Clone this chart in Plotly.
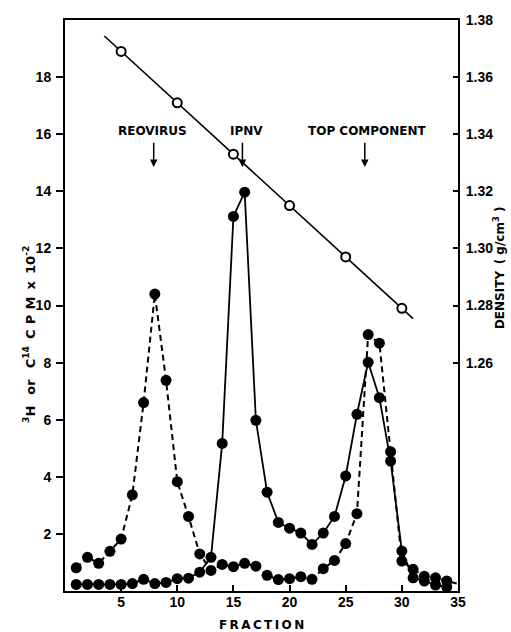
import numpy as np
import plotly.graph_objects as go

# ---- data ----
fractions = list(range(1, 35))

# dashed series (reovirus peak + top component); last value only continues the line
dashed_fractions = list(range(1, 36))
dashed_cpm = [0.81, 1.18, 0.97, 1.39, 1.82, 3.37, 6.60, 10.40, 7.38, 3.83,
              2.61, 1.30, 0.72, 0.93, 0.85, 0.97, 0.87, 0.55, 0.40, 0.43,
              0.50, 0.41, 0.78, 1.07, 1.66, 2.71, 8.98, 8.68, 4.88, 1.05,
              0.76, 0.52, 0.46, 0.35, 0.25]

# solid series (IPNV peak + top component)
solid_cpm = [0.23, 0.23, 0.23, 0.23, 0.23, 0.26, 0.41, 0.26, 0.30, 0.43,
             0.45, 0.66, 1.18, 5.17, 13.12, 13.97, 5.98, 3.46, 2.40, 2.20,
             2.03, 1.63, 2.03, 2.61, 4.03, 6.19, 8.01, 6.77, 4.55, 1.40,
             0.46, 0.35, 0.21, 0.14]

# density (open circles)
density_fractions = [5, 10, 15, 20, 25, 30]
density_values = [1.369, 1.351, 1.333, 1.315, 1.297, 1.279]
density_line_extent = [3.5, 31.0]

# labels and arrows
label_texts = ["REOVIRUS", "IPNV", "TOP COMPONENT"]
label_fractions = [7.8, 16.2, 26.9]
arrow_fractions = [7.9, 15.8, 26.7]

x_ticks = [5, 10, 15, 20, 25, 30, 35]
y_ticks = [2, 4, 6, 8, 10, 12, 14, 16, 18]
y2_ticks = [1.26, 1.28, 1.30, 1.32, 1.34, 1.36, 1.38]

FONT = "DejaVu Sans"
TICKFONT = dict(family="Liberation Sans", size=14, color="black", weight="bold")

fig = go.Figure()

# dashed line
fig.add_trace(go.Scatter(
    x=dashed_fractions, y=dashed_cpm, mode="lines",
    line=dict(color="black", width=2, dash="6px,4px"),
    showlegend=False, hoverinfo="skip", cliponaxis=False))
# dashed series markers (measured points only)
fig.add_trace(go.Scatter(
    x=dashed_fractions[:-1], y=dashed_cpm[:-1], mode="markers",
    marker=dict(color="black", size=11, opacity=1, line=dict(width=0)),
    showlegend=False, cliponaxis=False))

fig.add_trace(go.Scatter(
    x=fractions, y=solid_cpm, mode="lines+markers",
    line=dict(color="black", width=1.8),
    marker=dict(color="black", size=11, opacity=1, line=dict(width=0)),
    showlegend=False, cliponaxis=False))

# density fit line
coef = np.polyfit(density_fractions, density_values, 1)
line_y = list(np.polyval(coef, density_line_extent))
fig.add_trace(go.Scatter(
    x=density_line_extent, y=line_y, mode="lines",
    line=dict(color="black", width=1.6), yaxis="y2",
    showlegend=False, hoverinfo="skip"))
fig.add_trace(go.Scatter(
    x=density_fractions, y=density_values, mode="markers", yaxis="y2",
    marker=dict(color="white", size=9, line=dict(color="black", width=2)),
    showlegend=False))

annotations = []
for t, lx, axx in zip(label_texts, label_fractions, arrow_fractions):
    annotations.append(dict(
        x=lx, y=16.1, xref="x", yref="y", text=t, showarrow=False,
        font=dict(family=FONT, size=12, color="black", weight="bold")))
    annotations.append(dict(
        x=axx, y=14.85, ax=axx, ay=15.75, xref="x", yref="y",
        axref="x", ayref="y", text="", showarrow=True,
        arrowhead=2, arrowsize=1, arrowwidth=1.5, arrowcolor="black"))

# axis titles as annotations
annotations.append(dict(
    x=-0.09, y=(591 - 332) / 576, xref="paper", yref="paper",
    text="<sup>3</sup>H\u2002 or\u2002 C<sup>14</sup>\u2009 C\u2009\u2009P\u2009\u2009M\u2009 x\u2009 10<sup>-2</sup>",
    textangle=-90, showarrow=False, xanchor="center", yanchor="middle",
    font=dict(family=FONT, size=13, color="black", weight="bold")))
annotations.append(dict(
    x=1.105, y=(591 - 265) / 576, xref="paper", yref="paper",
    text="DENSITY\u2009 ( g/cm<sup>3</sup> )",
    textangle=-90, showarrow=False, xanchor="center", yanchor="middle",
    font=dict(family=FONT, size=12, color="black", weight="bold")))
annotations.append(dict(
    x=0.5, y=-(625 - 591) / 576, xref="paper", yref="paper",
    text="\u2009".join("FRACTION"), showarrow=False,
    xanchor="center", yanchor="middle",
    font=dict(family=FONT, size=12, color="black", weight="bold")))

fig.update_layout(
    width=511, height=632,
    margin=dict(l=65, r=53, t=15, b=41),
    paper_bgcolor="white", plot_bgcolor="white",
    font=dict(family=FONT, color="black"),
    xaxis=dict(range=[0, 35], tickvals=x_ticks, ticks="inside", ticklen=6,
               tickwidth=1.5, tickcolor="black", showline=True, linewidth=2,
               linecolor="black", mirror=True, showgrid=False, zeroline=False,
               tickfont=TICKFONT, ticklabelstandoff=-3),
    yaxis=dict(range=[0, 20], tickvals=y_ticks, ticks="outside", ticklen=7,
               tickwidth=1.5, tickcolor="black", showline=True, linewidth=2,
               linecolor="black", showgrid=False, zeroline=False,
               tickfont=TICKFONT, ticklabelstandoff=2),
    yaxis2=dict(range=[1.18, 1.38], tickvals=y2_ticks,
                ticktext=[f"{v:.2f}" for v in y2_ticks],
                overlaying="y", side="right", ticks="inside", ticklen=5,
                tickwidth=1.5, tickcolor="black", showline=True, linewidth=2,
                linecolor="black", showgrid=False, zeroline=False,
                tickfont=TICKFONT, ticklabelstandoff=3),
    annotations=annotations,
)

fig.write_html("out.html")
